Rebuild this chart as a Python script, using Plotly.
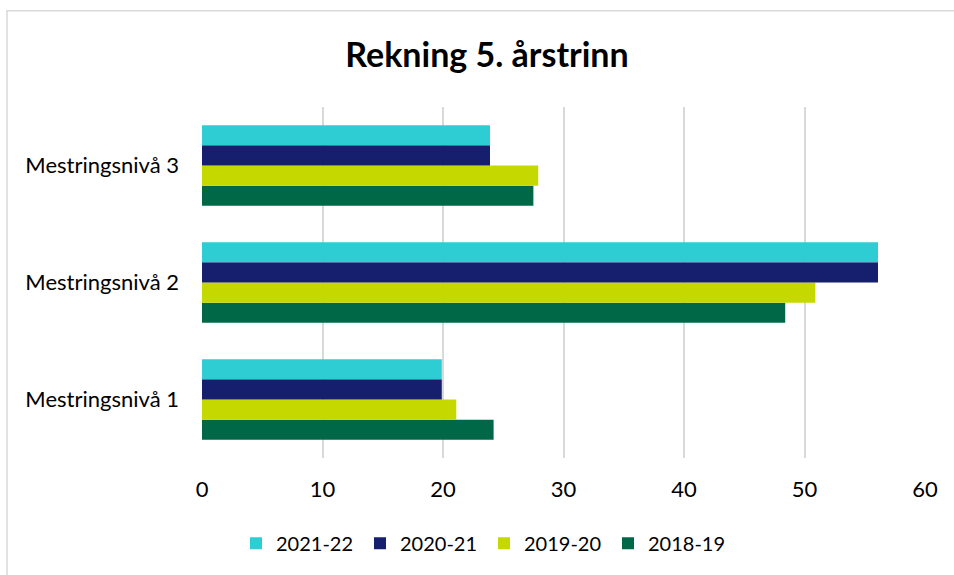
import plotly.graph_objects as go

categories = ["Mestringsnivå 1", "Mestringsnivå 2", "Mestringsnivå 3"]
series_names = ["2018-19", "2019-20", "2020-21", "2021-22"]
v_2018_19 = [24.2, 48.4, 27.5]
v_2019_20 = [21.1, 50.9, 27.9]
v_2020_21 = [19.9, 56.1, 23.9]
v_2021_22 = [19.9, 56.1, 23.9]
x_ticks = [0, 10, 20, 30, 40, 50, 60]

values = [v_2018_19, v_2019_20, v_2020_21, v_2021_22]
colors = ["#006847", "#C5D800", "#161F6D", "#2ECCD3"]

FONT = "Lato, 'Open Sans', sans-serif"

fig = go.Figure()
for name, vals, col in zip(series_names, values, colors):
    fig.add_trace(go.Bar(
        y=categories, x=vals, name=name, orientation="h",
        marker=dict(color=col, line=dict(width=0)),
    ))

W, H = 954, 575
L, R, T, B = 202, 29, 107, 114
pw, ph = W - L - R, H - T - B

def px(x):
    return (x - L) / pw

def py(y):
    return (H - B - y) / ph

fig.update_layout(
    width=W, height=H,
    margin=dict(l=L, r=R, t=T, b=B),
    paper_bgcolor="white", plot_bgcolor="white",
    barmode="group", bargap=0.31, bargroupgap=0,
    font=dict(family=FONT, color="#000000", size=22),
    title=dict(text="<b>Rekning 5. årstrinn</b>", x=px(487), xref="paper",
               xanchor="center", y=1 - 55 / H, yanchor="middle",
               font=dict(size=34, family=FONT, color="#000000")),
    legend=dict(orientation="h", traceorder="reversed", x=px(484), xanchor="center",
                y=py(547), yanchor="middle", font=dict(size=20),
                itemwidth=30, entrywidthmode="pixels", entrywidth=79),
    showlegend=True,
    shapes=[dict(type="rect", xref="paper", yref="paper",
                 x0=px(7), x1=px(990), y0=py(600), y1=py(10),
                 line=dict(color="#d9d9d9", width=1.5), layer="below")],
)
fig.update_xaxes(range=[0, 60], tickvals=x_ticks, showgrid=True, gridcolor="#d9d9d9",
                 gridwidth=1.5, zeroline=False, showline=False,
                 ticklabelstandoff=16, tickfont=dict(size=22))
fig.update_yaxes(showgrid=False, zeroline=False, showline=False,
                 ticklabelstandoff=22, tickfont=dict(size=22))

fig.write_html("out.html", config={"displayModeBar": False},
               post_script="document.body.style.margin='0';")
